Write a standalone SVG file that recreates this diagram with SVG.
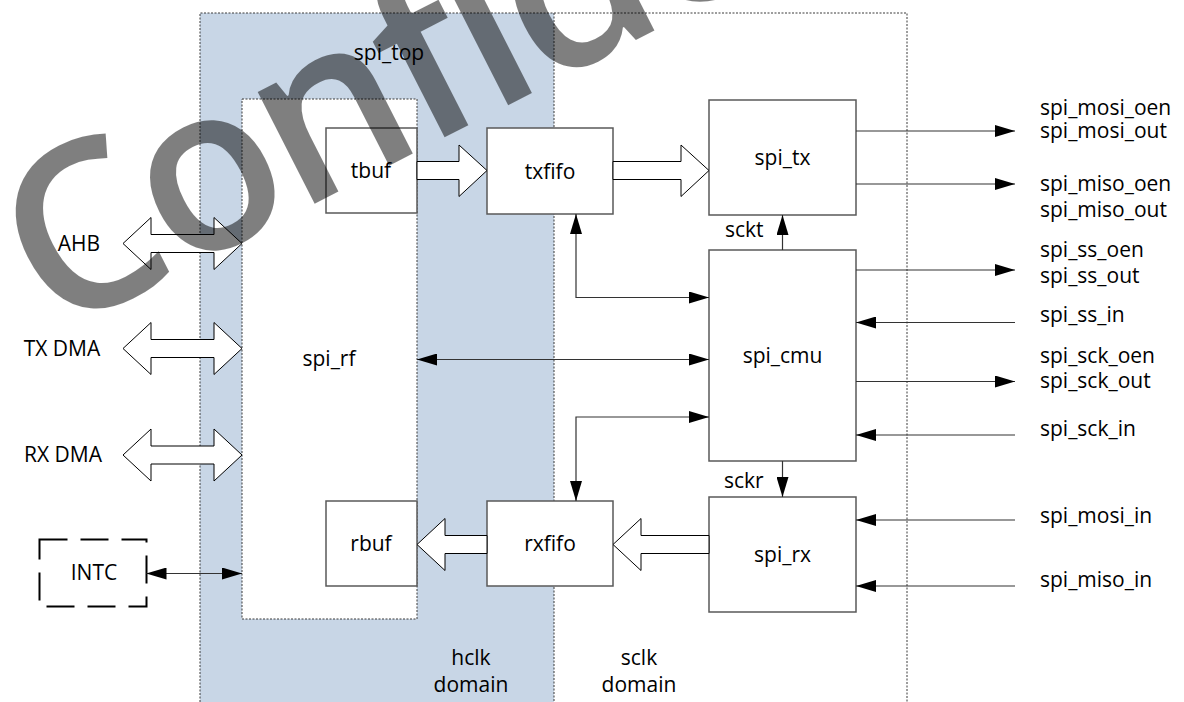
<svg xmlns="http://www.w3.org/2000/svg" width="1184" height="702" viewBox="0 0 1184 702">
<style>
text{font-family:"Open Sans","Liberation Sans",sans-serif;font-size:21px;fill:#000}
.c{text-anchor:middle}
.box{fill:#fff;stroke:#595959;stroke-width:1.5}
.dot{fill:none;stroke:#3a3a3a;stroke-width:1;stroke-dasharray:2 1.5}
.big{fill:#fff;stroke:#000;stroke-width:1}
.ln{fill:none;stroke:#333;stroke-width:1.2}
.a2{marker-start:url(#ah);marker-end:url(#ah)}
.a1{marker-end:url(#ah)}
.wm{font-size:232px;font-weight:600;letter-spacing:-7px;fill:#000;fill-opacity:0.5}
</style>
<defs>
<marker id="ah" markerUnits="userSpaceOnUse" markerWidth="20" markerHeight="12" refX="20" refY="6" orient="auto-start-reverse" viewBox="0 0 20 12">
<path d="M0,0 L20,6 L0,12 z" fill="#000"/>
</marker>
</defs>
<rect width="1184" height="702" fill="#fff"/>
<g id="spi_top">
<rect x="200" y="13" width="354" height="700" fill="#c8d6e6"/>
<path class="dot" d="M200,702 V13 H907 V702 M554,13 V702"/>
<text class="c" x="389" y="60">spi_top</text>
<text class="c" x="471" y="665">hclk</text>
<text class="c" x="471" y="692">domain</text>
<text class="c" x="639" y="665">sclk</text>
<text class="c" x="639" y="692">domain</text>
</g>
<g id="spi_rf">
<rect x="242" y="99" width="175" height="520" fill="#fff"/>
<rect class="dot" x="242" y="99" width="175" height="520"/>
<text class="c" x="329" y="366">spi_rf</text>
</g>
<g id="tbuf"><rect class="box" x="326" y="128" width="91" height="85"/><text class="c" x="371" y="178">tbuf</text></g>
<g id="rbuf"><rect class="box" x="326" y="501" width="91" height="85"/><text class="c" x="371" y="551">rbuf</text></g>
<g id="txfifo"><rect class="box" x="487" y="128" width="126" height="86"/><text class="c" x="550" y="179">txfifo</text></g>
<g id="rxfifo"><rect class="box" x="487" y="501" width="126" height="85"/><text class="c" x="550" y="551">rxfifo</text></g>
<g id="spi_tx"><rect class="box" x="709" y="100" width="147" height="115"/><text class="c" x="782.5" y="165">spi_tx</text></g>
<g id="spi_cmu"><rect class="box" x="709" y="250" width="147" height="211"/><text class="c" x="782.5" y="363">spi_cmu</text></g>
<g id="spi_rx"><rect class="box" x="709" y="497" width="147" height="115"/><text class="c" x="782.5" y="562">spi_rx</text></g>
<g id="intc"><rect x="39.5" y="539.5" width="107" height="67" fill="none" stroke="#000" stroke-width="2" stroke-dasharray="28 13"/><text class="c" x="94" y="580">INTC</text></g>
<g id="ext_left">
<text class="c" x="79" y="251">AHB</text>
<text class="c" x="62" y="356">TX DMA</text>
<text class="c" x="63" y="462">RX DMA</text>
</g>
<g id="ports">
<text x="1040" y="114.5">spi_mosi_oen</text>
<text x="1040" y="137.5">spi_mosi_out</text>
<text x="1040" y="191">spi_miso_oen</text>
<text x="1040" y="216.5">spi_miso_out</text>
<text x="1040" y="256.5">spi_ss_oen</text>
<text x="1040" y="282.5">spi_ss_out</text>
<text x="1040" y="322">spi_ss_in</text>
<text x="1040" y="363">spi_sck_oen</text>
<text x="1040" y="388">spi_sck_out</text>
<text x="1040" y="436">spi_sck_in</text>
<text x="1040" y="522.5">spi_mosi_in</text>
<text x="1040" y="586.5">spi_miso_in</text>
</g>
<g id="connectors">
<polygon class="big" points="417,161.5 459,161.5 459,145 487,170.5 459,196.5 459,179.5 417,179.5"/>
<polygon class="big" points="613,161.5 681,161.5 681,145 709,170.5 681,196.5 681,179.5 613,179.5"/>
<polygon class="big" points="709,535.5 641,535.5 641,518.5 613,544.5 641,570.5 641,553.5 709,553.5"/>
<polygon class="big" points="487,535.5 445,535.5 445,518.5 417,544.5 445,570.5 445,553.5 487,553.5"/>
<polygon class="big" points="123,243.5 151,217.5 151,234.5 214,234.5 214,217.5 242,243.5 214,269.5 214,252.5 151,252.5 151,269.5"/>
<polygon class="big" points="123,348.5 151,322.5 151,339.5 214,339.5 214,322.5 242,348.5 214,374.5 214,357.5 151,357.5 151,374.5"/>
<polygon class="big" points="123,455 151,429 151,446 214,446 214,429 242,455 214,481 214,464 151,464 151,481"/>
<text x="725" y="237">sckt</text>
<text x="724" y="488">sckr</text>
<path class="ln a1" d="M782.5,250 V215"/>
<path class="ln a1" d="M782.5,461 V497"/>
<path class="ln a2" d="M576,214 V297.5 H709"/>
<path class="ln a2" d="M417,359.5 H709"/>
<path class="ln a2" d="M709,417 H576 V501"/>
<path class="ln a2" d="M146.5,573.5 H242"/>
<path class="ln a1" d="M856,131 H1015"/>
<path class="ln a1" d="M856,184 H1015"/>
<path class="ln a1" d="M856,270 H1015"/>
<path class="ln a1" d="M856,381.5 H1015"/>
<path class="ln a1" d="M1015,322.5 H856"/>
<path class="ln a1" d="M1015,435 H856"/>
<path class="ln a1" d="M1015,520 H856"/>
<path class="ln a1" d="M1015,586 H856"/>
</g>
<text class="wm" transform="translate(53,337) rotate(-27)">Confidential</text>
</svg>
